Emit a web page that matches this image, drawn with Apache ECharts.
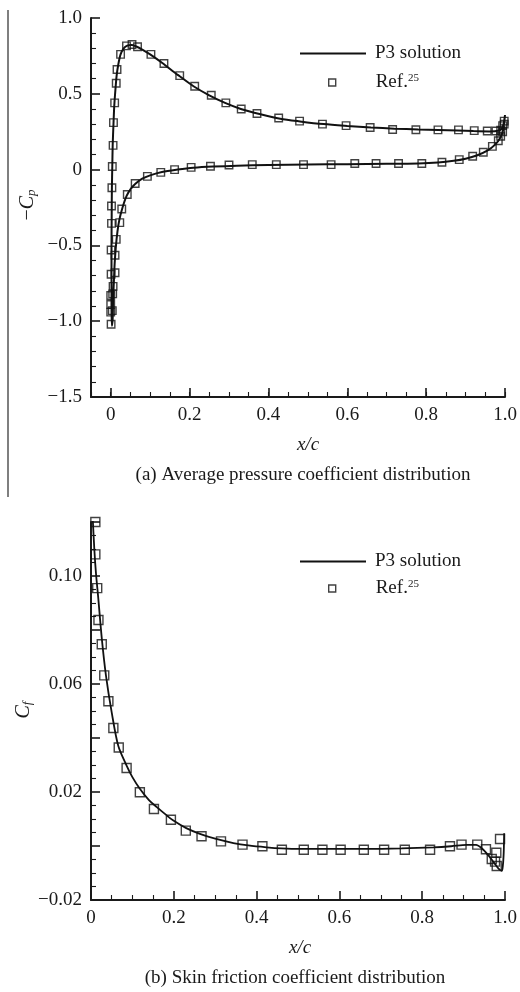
<!DOCTYPE html>
<html>
<head>
<meta charset="utf-8">
<script src="https://cdn.jsdelivr.net/npm/echarts@6/dist/echarts.min.js"></script>
<style>html,body{margin:0;padding:0;background:#fff;}#c{width:520px;height:992px;}</style>
</head>
<body>
<div id="c"></div>
<script>
// ---- Data (x/c, value) ----
var cpCurve = [[1.0,0.36],[0.997,0.31],[0.993,0.275],[0.985,0.258],[0.96,0.252],[0.92,0.254],[0.88,0.258],[0.83,0.262],[0.78,0.265],[0.72,0.27],[0.66,0.278],[0.60,0.288],[0.54,0.30],[0.48,0.318],[0.43,0.336],[0.38,0.365],[0.33,0.40],[0.29,0.44],[0.25,0.49],[0.21,0.55],[0.17,0.625],[0.13,0.705],[0.10,0.76],[0.08,0.792],[0.065,0.812],[0.053,0.822],[0.042,0.818],[0.033,0.80],[0.025,0.76],[0.019,0.69],[0.015,0.62],[0.012,0.53],[0.009,0.42],[0.007,0.30],[0.005,0.16],[0.004,0.02],[0.003,-0.12],[0.0025,-0.3],[0.002,-0.5],[0.002,-0.7],[0.002,-0.9],[0.003,-1.03],[0.005,-0.98],[0.006,-0.86],[0.008,-0.74],[0.010,-0.62],[0.013,-0.51],[0.017,-0.41],[0.022,-0.33],[0.03,-0.25],[0.04,-0.175],[0.05,-0.13],[0.062,-0.095],[0.08,-0.06],[0.1,-0.038],[0.13,-0.016],[0.17,0.0],[0.21,0.012],[0.26,0.02],[0.32,0.026],[0.4,0.03],[0.5,0.033],[0.6,0.036],[0.7,0.038],[0.78,0.041],[0.83,0.047],[0.87,0.058],[0.9,0.072],[0.93,0.095],[0.955,0.125],[0.975,0.165],[0.988,0.21],[0.995,0.26],[1.0,0.36]];
var cpRefUpper = [[0.998,0.32],[0.994,0.29],[0.989,0.26],[0.977,0.255],[0.955,0.255],[0.922,0.257],[0.882,0.262],[0.83,0.262],[0.774,0.263],[0.715,0.265],[0.658,0.278],[0.597,0.29],[0.537,0.30],[0.479,0.32],[0.426,0.34],[0.371,0.37],[0.331,0.40],[0.292,0.44],[0.255,0.49],[0.213,0.55],[0.175,0.62],[0.135,0.70],[0.102,0.76],[0.068,0.81],[0.054,0.825],[0.040,0.816],[0.025,0.76],[0.016,0.66],[0.014,0.57],[0.010,0.44],[0.007,0.31],[0.006,0.16],[0.004,0.02],[0.003,-0.12],[0.002,-0.24],[0.002,-0.355],[0.001,-0.53],[0.001,-0.69],[0.0,-0.83],[0.0,-0.89],[0.0,-0.94],[0.001,-1.02]];
var cpRefLower = [[0.004,-0.93],[0.005,-0.82],[0.006,-0.77],[0.011,-0.68],[0.011,-0.565],[0.014,-0.46],[0.023,-0.35],[0.028,-0.26],[0.042,-0.164],[0.062,-0.092],[0.093,-0.045],[0.127,-0.018],[0.162,0.0],[0.204,0.015],[0.253,0.022],[0.30,0.03],[0.359,0.033],[0.420,0.033],[0.489,0.033],[0.559,0.033],[0.619,0.04],[0.673,0.04],[0.73,0.04],[0.789,0.04],[0.84,0.048],[0.884,0.066],[0.918,0.088],[0.945,0.114],[0.968,0.153],[0.983,0.19],[0.989,0.22],[0.994,0.25],[0.998,0.30]];
var cfCurve = [[0.003,0.125],[0.008,0.11],[0.012,0.101],[0.0176,0.0917],[0.026,0.077],[0.036,0.0633],[0.05,0.0495],[0.066,0.037],[0.086,0.0298],[0.1,0.0255],[0.118,0.0212],[0.14,0.017],[0.159,0.0144],[0.18,0.0117],[0.199,0.0094],[0.23,0.0066],[0.263,0.0045],[0.3,0.0027],[0.344,0.0011],[0.38,0.0002],[0.424,-0.0005],[0.46,-0.0009],[0.505,-0.0011],[0.6,-0.0011],[0.666,-0.0011],[0.75,-0.0009],[0.827,-0.0005],[0.87,-0.0001],[0.907,0.0004],[0.93,0.0004],[0.945,-0.001],[0.96,-0.0035],[0.975,-0.0065],[0.985,-0.0085],[0.992,-0.0092],[0.995,-0.007],[0.997,-0.002],[0.998,0.0047]];
var cfRef = [[0.0105,0.120],[0.0105,0.108],[0.015,0.0955],[0.018,0.0837],[0.026,0.0747],[0.032,0.0632],[0.042,0.0536],[0.054,0.0437],[0.067,0.0365],[0.086,0.0289],[0.118,0.0199],[0.152,0.0137],[0.193,0.0097],[0.229,0.0057],[0.267,0.0036],[0.314,0.0017],[0.366,0.0005],[0.414,-0.0001],[0.461,-0.0014],[0.514,-0.0014],[0.559,-0.0014],[0.603,-0.0014],[0.659,-0.0014],[0.708,-0.0014],[0.758,-0.0014],[0.819,-0.0014],[0.867,-0.0001],[0.895,0.0005],[0.933,0.0005],[0.954,-0.0012],[0.968,-0.0048],[0.976,-0.0058],[0.980,-0.0074],[0.979,-0.0025],[0.988,0.0026]];
var cpXMin = -0.05;
var cfLabelValues = [-0.02,0.02,0.06,0.10];
var seriesNames = ['P3 solution','Ref.25'];

var FONT = 'Liberation Serif';
var INK = '#1a1a1a';
function fmt1(v){ if (Math.abs(v) < 1e-9) return '0'; return v.toFixed(1).replace('-', '\u2212'); }
function fmtCf(v){
  var r = Math.round(v*100);
  for (var i=0;i<cfLabelValues.length;i++){ if (Math.round(cfLabelValues[i]*100) === r) return v.toFixed(2).replace('-', '\u2212'); }
  return '';
}
var axisLineStyle = {onZero:false, lineStyle:{color:INK,width:2}};
var labelStyle = {fontFamily:FONT,fontSize:19,color:INK};

// top panel geometry: the grid spans cpXMin..1, an overlay grid spans 0..1 for major ticks/labels
var G0 = {left:91, top:18, width:414, height:379};
var pxPerUnit = G0.width / (1 - cpXMin);
var G2 = {left:G0.left + (0 - cpXMin)*pxPerUnit, top:G0.top, width:pxPerUnit, height:G0.height};

var chart = echarts.init(document.getElementById('c'), null, {renderer:'canvas'});
var refStyle = {color:'rgba(0,0,0,0)', borderColor:'#111', borderWidth:1.4};
function legendFmt(name){ return name === 'Ref.25' ? '{r|Ref.}{s|25}' : name; }
var legendText = {fontFamily:FONT,fontSize:19,color:INK,
  rich:{r:{fontFamily:FONT,fontSize:19,color:INK}, s:{fontFamily:FONT,fontSize:11,color:INK,verticalAlign:'top',padding:[0,0,8,0]}}};
function lineLegend(top){
  return {data:[{name:seriesNames[0], icon:'rect', itemStyle:{color:'#111', borderWidth:0}}], left:300, top:top, padding:0, itemWidth:66, itemHeight:2.2,
    formatter:legendFmt, textStyle:Object.assign({}, legendText, {padding:[0,0,0,4]}), selectedMode:false};
}
function refLegend(top){
  return {data:[{name:seriesNames[1], icon:'rect', itemStyle:refStyle}], left:328, top:top, padding:0, itemWidth:7, itemHeight:7,
    formatter:legendFmt, textStyle:Object.assign({}, legendText, {padding:[0,0,0,35]}), selectedMode:false};
}

var option = {
  animation:false,
  backgroundColor:'#fff',
  grid:[
    G0,
    {left:91, top:522, width:414, height:378},
    G2
  ],
  xAxis:[
    // top panel data axis (minor ticks every 0.05)
    {type:'value', gridIndex:0, position:'bottom', min:cpXMin, max:1, interval:0.05, axisLine:axisLineStyle,
     axisTick:{inside:true, length:5, lineStyle:{color:INK,width:1.1}},
     axisLabel:{show:false}, splitLine:{show:false}},
    // top panel major ticks and labels (overlay grid 0..1)
    {type:'value', gridIndex:2, position:'bottom', min:0, max:1, interval:0.2, axisLine:{show:false, onZero:false},
     axisTick:{inside:true, length:9, lineStyle:{color:INK,width:1.6}},
     axisLabel:Object.assign({margin:9, formatter:fmt1}, labelStyle), splitLine:{show:false}},
    // bottom panel
    {type:'value', gridIndex:1, position:'bottom', min:0, max:1, interval:0.2, axisLine:axisLineStyle,
     axisTick:{inside:true, length:9, lineStyle:{color:INK,width:1.6}},
     minorTick:{show:true, splitNumber:4, length:5, lineStyle:{color:INK,width:1.1}},
     axisLabel:Object.assign({margin:9, formatter:fmt1}, labelStyle),
     splitLine:{show:false}, minorSplitLine:{show:false}}
  ],
  yAxis:[
    {type:'value', gridIndex:0, min:-1.5, max:1, interval:0.5, axisLine:axisLineStyle,
     axisTick:{inside:true, length:9, lineStyle:{color:INK,width:1.6}},
     minorTick:{show:true, splitNumber:5, length:5, lineStyle:{color:INK,width:1.1}},
     axisLabel:Object.assign({margin:9, formatter:fmt1}, labelStyle),
     splitLine:{show:false}, minorSplitLine:{show:false}},
    {type:'value', gridIndex:1, min:-0.02, max:0.12, interval:0.02, axisLine:axisLineStyle,
     axisTick:{inside:true, length:9, lineStyle:{color:INK,width:1.6}},
     minorTick:{show:true, splitNumber:4, length:5, lineStyle:{color:INK,width:1.1}},
     axisLabel:Object.assign({margin:9, formatter:fmtCf, showMaxLabel:true}, labelStyle),
     splitLine:{show:false}, minorSplitLine:{show:false}},
    {type:'value', gridIndex:2, min:-1.5, max:1, show:false}
  ],
  legend:[lineLegend(44), refLegend(73), lineLegend(552), refLegend(579)],
  series:[
    {name:seriesNames[0], type:'line', xAxisIndex:0, yAxisIndex:0, data:cpCurve, symbol:'none', smooth:0.3,
     lineStyle:{color:'#111', width:2}, itemStyle:{color:'#111'}, z:3},
    {name:seriesNames[1], type:'scatter', xAxisIndex:0, yAxisIndex:0, data:cpRefUpper.concat(cpRefLower), symbol:'rect', symbolSize:7.5,
     itemStyle:refStyle, z:4},
    {name:seriesNames[0], type:'line', xAxisIndex:2, yAxisIndex:1, data:cfCurve, symbol:'none', smooth:0.3,
     lineStyle:{color:'#111', width:1.8}, itemStyle:{color:'#111'}, z:3},
    {name:seriesNames[1], type:'scatter', xAxisIndex:2, yAxisIndex:1, data:cfRef, symbol:'rect', symbolSize:9,
     itemStyle:refStyle, z:4}
  ],
  graphic:[
    {type:'line', shape:{x1:8,y1:10,x2:8,y2:497}, style:{stroke:'#555',lineWidth:1.5}},
    {type:'text', x:28, y:205, rotation:Math.PI/2,
     style:{text:'{m|\u2212}{c|C}{p|p}', align:'center', verticalAlign:'middle',
       rich:{m:{fontFamily:FONT,fontSize:20,fill:INK}, c:{fontFamily:FONT,fontSize:20,fontStyle:'italic',fill:INK},
             p:{fontFamily:FONT,fontSize:13,fontStyle:'italic',fill:INK,verticalAlign:'bottom',padding:[8,0,0,0]}}}},
    {type:'text', x:308, y:445, style:{text:'x/c', font:'italic 19px "Liberation Serif"', fill:INK, align:'center', verticalAlign:'middle'}},
    {type:'text', x:303, y:475, style:{text:'(a) Average pressure coefficient distribution', font:'19px "Liberation Serif"', fill:INK, align:'center', verticalAlign:'middle'}},
    {type:'text', x:24, y:710, rotation:Math.PI/2,
     style:{text:'{c|C}{p|f}', align:'center', verticalAlign:'middle',
       rich:{c:{fontFamily:FONT,fontSize:20,fontStyle:'italic',fill:INK},
             p:{fontFamily:FONT,fontSize:13,fontStyle:'italic',fill:INK,verticalAlign:'bottom',padding:[8,0,0,0]}}}},
    {type:'text', x:300, y:948, style:{text:'x/c', font:'italic 19px "Liberation Serif"', fill:INK, align:'center', verticalAlign:'middle'}},
    {type:'text', x:295, y:978, style:{text:'(b) Skin friction coefficient distribution', font:'19px "Liberation Serif"', fill:INK, align:'center', verticalAlign:'middle'}}
  ]
};
chart.setOption(option);
</script>
</body>
</html>
